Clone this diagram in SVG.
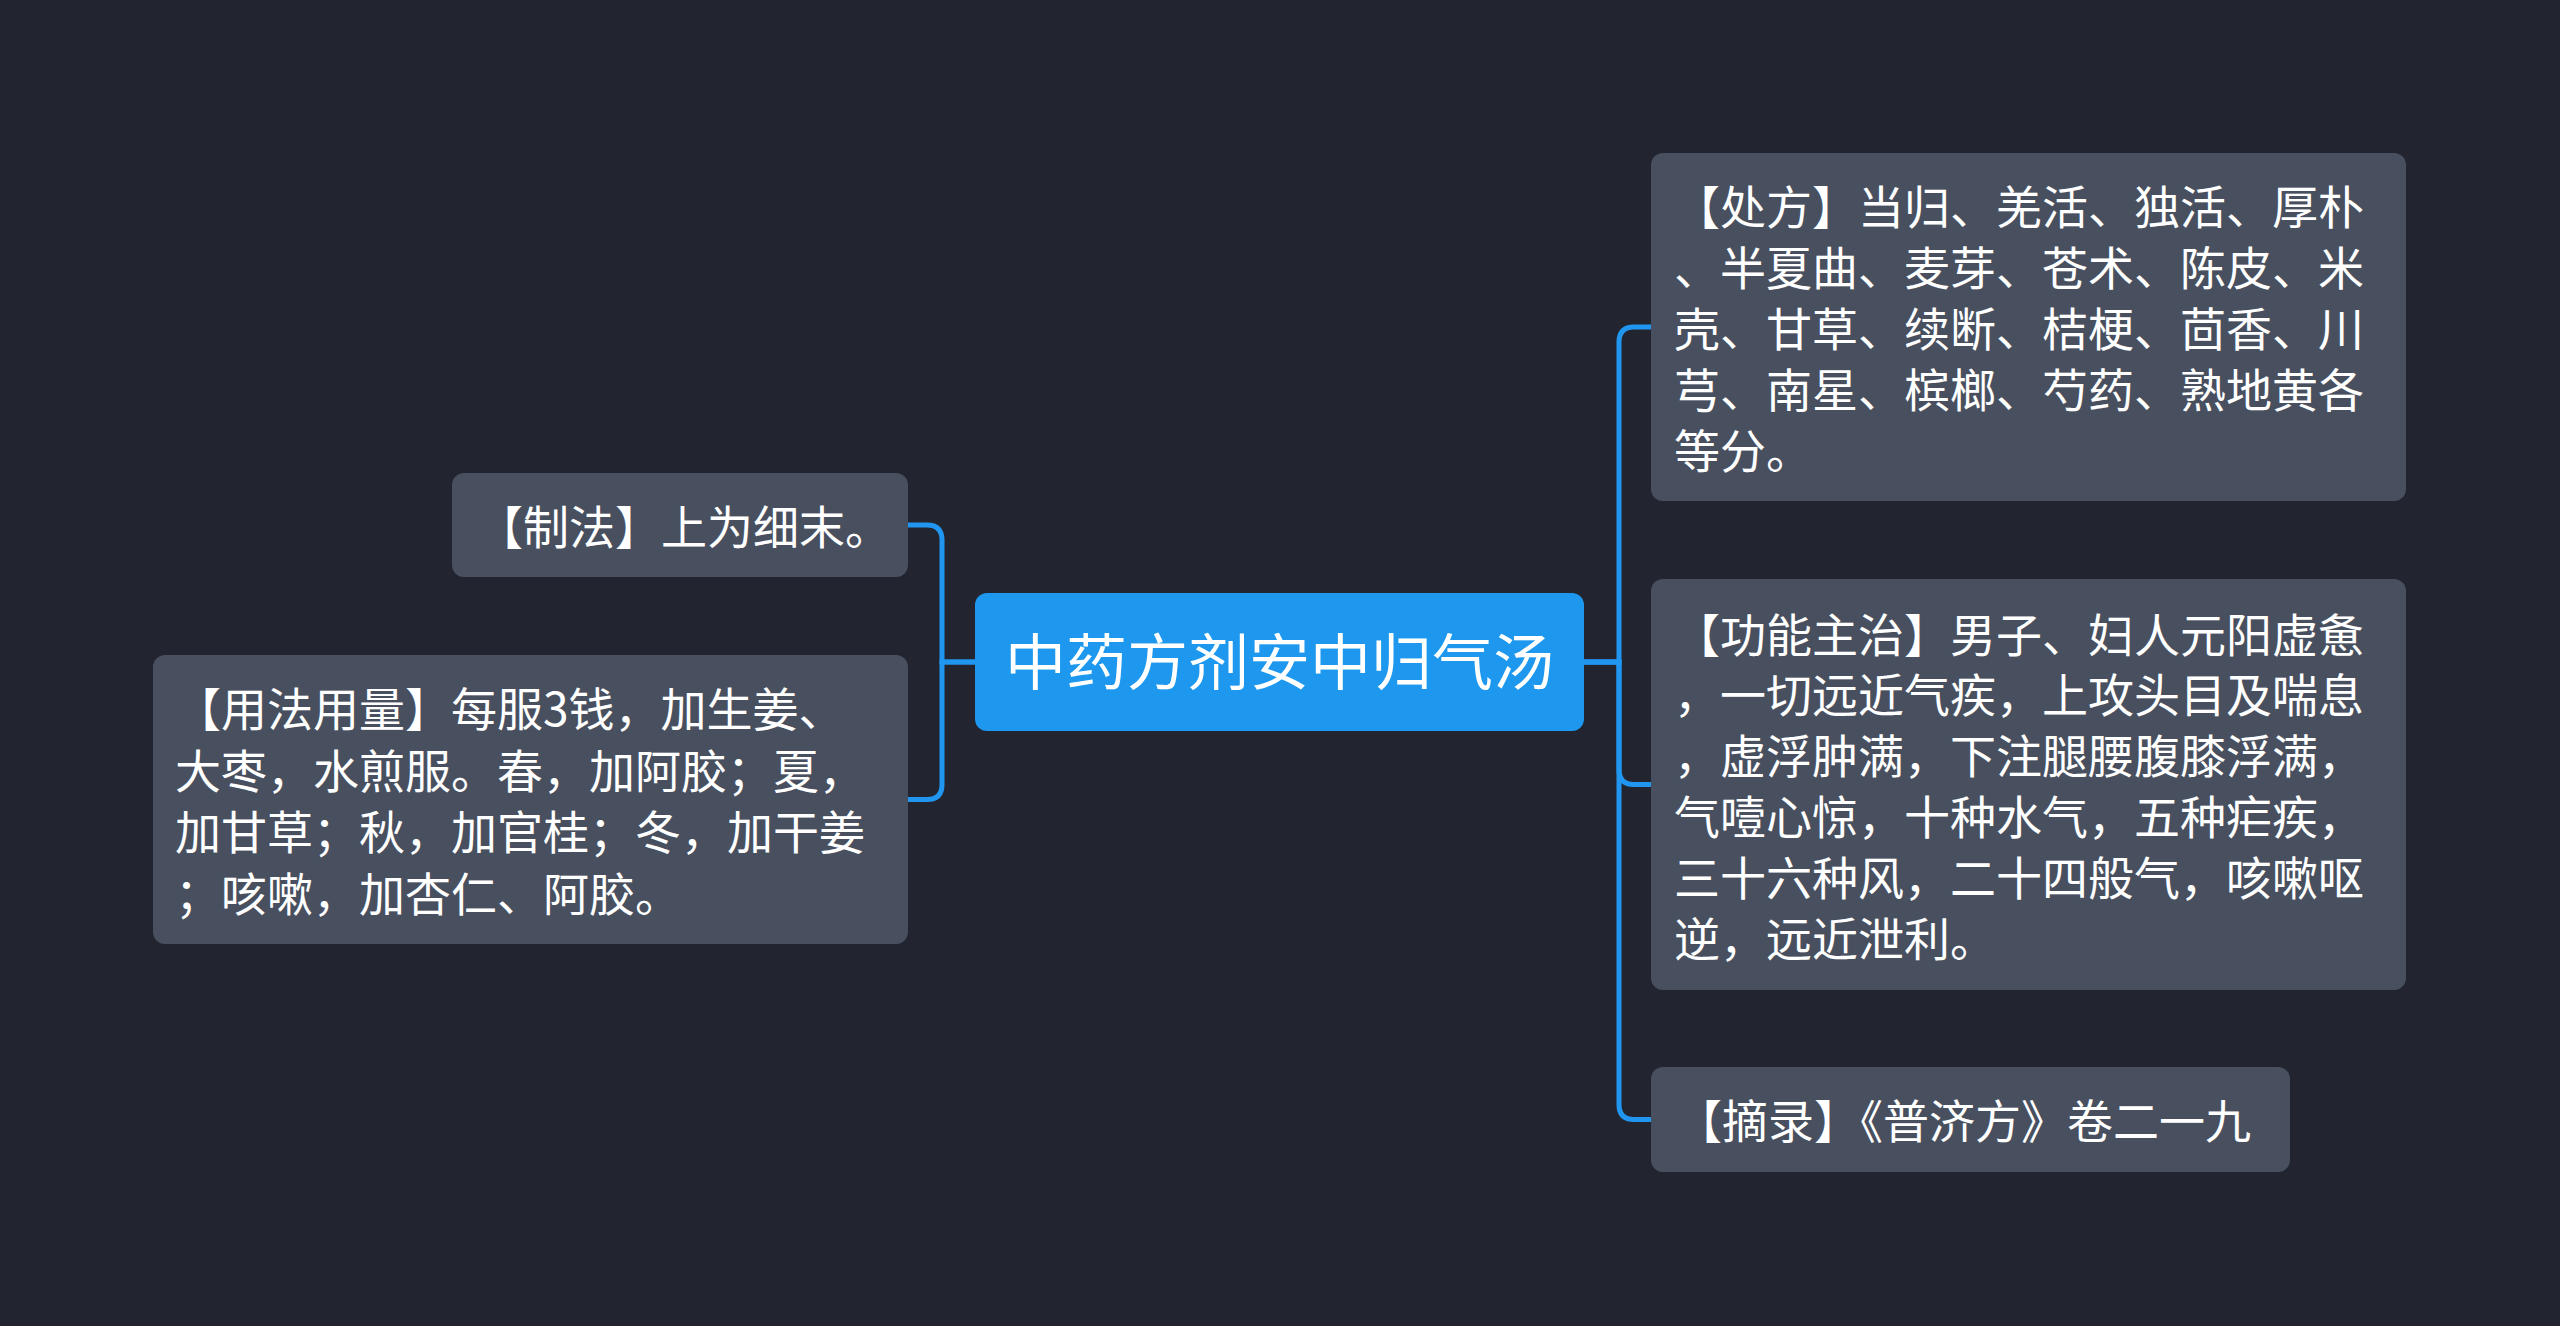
<svg xmlns="http://www.w3.org/2000/svg" width="2560" height="1326" viewBox="0 0 2560 1326">
<style>
.bg{fill:#22252f}
.node{fill:#485060}
.root{fill:#1d98ee}
.t{font-family:"Noto Sans CJK SC","Noto Sans",sans-serif;fill:#ffffff;font-size:46px}
.rt{font-family:"Noto Sans CJK SC","Noto Sans",sans-serif;fill:#ffffff;font-size:61px}
.c{fill:none;stroke:#2196f0;stroke-width:5}
</style>
<rect class="bg" x="0" y="0" width="2560" height="1326"/>
<g id="connectors">
<path class="c" d="M1584,662 H1619 V342 Q1619,327 1634,327 H1651"/>
<path class="c" d="M1584,662 H1619 V769.5 Q1619,784.5 1634,784.5 H1651"/>
<path class="c" d="M1584,662 H1619 V1104.5 Q1619,1119.5 1634,1119.5 H1651"/>
<path class="c" d="M975,662 H942 V540 Q942,525 927,525 H908"/>
<path class="c" d="M975,662 H942 V784.5 Q942,799.5 927,799.5 H908"/>
</g>
<g id="root">
<rect class="root" x="975" y="593" width="609" height="138" rx="12"/>
<text class="rt" x="1279.5" y="684.5" text-anchor="middle">中药方剂安中归气汤</text>
</g>
<g id="node-zhifa">
<rect class="node" x="452" y="473" width="456" height="104" rx="12"/>
<text class="t" x="477" y="543.5">【制法】上为细末。</text>
</g>
<g id="node-yongfa">
<rect class="node" x="153" y="655" width="755" height="289" rx="12"/>
<text class="t" x="175" y="726">【用法用量】每服3钱，加生姜、</text>
<text class="t" x="175" y="787.5">大枣，水煎服。春，加阿胶；夏，</text>
<text class="t" x="175" y="849">加甘草；秋，加官桂；冬，加干姜</text>
<text class="t" x="175" y="910.5">；咳嗽，加杏仁、阿胶。</text>
</g>
<g id="node-chufang">
<rect class="node" x="1651" y="153" width="755" height="348" rx="12"/>
<text class="t" x="1674" y="224">【处方】当归、羌活、独活、厚朴</text>
<text class="t" x="1674" y="285">、半夏曲、麦芽、苍术、陈皮、米</text>
<text class="t" x="1674" y="346">壳、甘草、续断、桔梗、茴香、川</text>
<text class="t" x="1674" y="407">芎、南星、槟榔、芍药、熟地黄各</text>
<text class="t" x="1674" y="468">等分。</text>
</g>
<g id="node-gongneng">
<rect class="node" x="1651" y="579" width="755" height="411" rx="12"/>
<text class="t" x="1674" y="651.5">【功能主治】男子、妇人元阳虚惫</text>
<text class="t" x="1674" y="712.3">，一切远近气疾，上攻头目及喘息</text>
<text class="t" x="1674" y="773.1">，虚浮肿满，下注腿腰腹膝浮满，</text>
<text class="t" x="1674" y="833.9">气噎心惊，十种水气，五种疟疾，</text>
<text class="t" x="1674" y="894.7">三十六种风，二十四般气，咳嗽呕</text>
<text class="t" x="1674" y="955.5">逆，远近泄利。</text>
</g>
<g id="node-zhailu">
<rect class="node" x="1651" y="1067" width="639" height="105" rx="12"/>
<text class="t" x="1676" y="1137.5">【摘录】《普济方》卷二一九</text>
</g>
</svg>
